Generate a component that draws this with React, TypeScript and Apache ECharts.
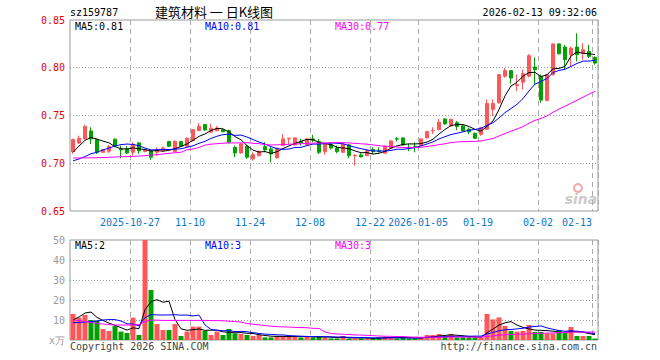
import React, { useEffect, useRef } from "react";
import * as echarts from "echarts";

const dates = [
  "2025-10-13","2025-10-14","2025-10-15","2025-10-16","2025-10-17","2025-10-20","2025-10-21","2025-10-22","2025-10-23","2025-10-24",
  "2025-10-27","2025-10-28","2025-10-29","2025-10-30","2025-10-31",
  "2025-11-03","2025-11-04","2025-11-05","2025-11-06","2025-11-07","2025-11-10","2025-11-11","2025-11-12","2025-11-13","2025-11-14",
  "2025-11-17","2025-11-18","2025-11-19","2025-11-20","2025-11-21","2025-11-24","2025-11-25","2025-11-26","2025-11-27","2025-11-28",
  "2025-12-01","2025-12-02","2025-12-03","2025-12-04","2025-12-05","2025-12-08","2025-12-09","2025-12-10","2025-12-11","2025-12-12",
  "2025-12-15","2025-12-16","2025-12-17","2025-12-18","2025-12-19","2025-12-22","2025-12-23","2025-12-24","2025-12-25","2025-12-26",
  "2025-12-29","2025-12-30","2025-12-31",
  "2026-01-05","2026-01-06","2026-01-07","2026-01-08","2026-01-09","2026-01-12","2026-01-13","2026-01-14","2026-01-15","2026-01-16",
  "2026-01-19","2026-01-20","2026-01-21","2026-01-22","2026-01-23","2026-01-26","2026-01-27","2026-01-28","2026-01-29","2026-01-30",
  "2026-02-02","2026-02-03","2026-02-04","2026-02-05","2026-02-06","2026-02-09","2026-02-10","2026-02-11","2026-02-12","2026-02-13",
];

const opens = [
  0.7120,0.7213,0.7255,0.7339,0.7248,0.7115,0.7126,0.7252,0.7150,0.7150,
  0.7115,0.7213,0.7122,0.7129,0.7115,0.7133,0.7227,0.7122,0.7227,0.7178,
  0.7237,0.7342,0.7405,0.7325,0.7340,0.7350,0.7342,0.7167,0.7108,0.7178,
  0.7045,0.7080,0.7174,0.7150,0.7056,0.7185,0.7255,0.7192,0.7227,0.7192,
  0.7255,0.7227,0.7122,0.7199,0.7160,0.7115,0.7192,0.7078,0.7087,0.7080,
  0.7143,0.7132,0.7105,0.7157,0.7257,0.7265,0.7167,0.7176,0.7185,0.7265,
  0.7340,0.7352,0.7464,0.7390,0.7425,0.7391,0.7356,0.7314,0.7304,0.7356,
  0.7564,0.7633,0.7911,0.7970,0.7814,0.7848,0.7911,0.8008,0.7911,0.7658,
  0.7928,0.8250,0.8216,0.8136,0.8216,0.8153,0.8171,0.8108,
];
const closes = [
  0.7248,0.7262,0.7384,0.7255,0.7115,0.7143,0.7174,0.7185,0.7140,0.7108,
  0.7199,0.7129,0.7140,0.7063,0.7136,0.7160,0.7178,0.7230,0.7178,0.7262,
  0.7352,0.7387,0.7349,0.7366,0.7370,0.7330,0.7220,0.7108,0.7202,0.7063,
  0.7090,0.7120,0.7140,0.7097,0.7157,0.7255,0.7262,0.7265,0.7213,0.7255,
  0.7241,0.7115,0.7202,0.7160,0.7122,0.7202,0.7080,0.7082,0.7066,0.7132,
  0.7122,0.7122,0.7178,0.7234,0.7253,0.7192,0.7160,0.7172,0.7255,0.7331,
  0.7344,0.7430,0.7412,0.7460,0.7384,0.7339,0.7328,0.7262,0.7373,0.7626,
  0.7626,0.7928,0.7970,0.7893,0.7824,0.7938,0.8126,0.7980,0.7661,0.7928,
  0.8250,0.8146,0.8084,0.8205,0.8136,0.8188,0.8119,0.8049,
];
const lows = [
  0.7100,0.7200,0.7250,0.7202,0.7097,0.7108,0.7108,0.7180,0.7052,0.7097,
  0.7080,0.7097,0.7115,0.7035,0.7080,0.7125,0.7170,0.7110,0.7170,0.7170,
  0.7230,0.7335,0.7340,0.7320,0.7335,0.7325,0.7210,0.7063,0.7100,0.7045,
  0.7027,0.7070,0.7115,0.7010,0.7050,0.7180,0.7202,0.7185,0.7185,0.7185,
  0.7220,0.7097,0.7090,0.7143,0.7105,0.7110,0.7052,0.6975,0.7063,0.7075,
  0.7097,0.7115,0.7100,0.7150,0.7227,0.7185,0.7126,0.7115,0.7180,0.7260,
  0.7307,0.7345,0.7405,0.7385,0.7346,0.7330,0.7304,0.7255,0.7287,0.7350,
  0.7495,0.7625,0.7895,0.7834,0.7755,0.7772,0.7900,0.7824,0.7633,0.7650,
  0.7920,0.8140,0.7980,0.8015,0.8067,0.8084,0.8101,0.8032,
];
const highs = [
  0.7258,0.7290,0.7405,0.7377,0.7255,0.7150,0.7192,0.7260,0.7185,0.7178,
  0.7220,0.7220,0.7150,0.7140,0.7167,0.7175,0.7235,0.7240,0.7235,0.7270,
  0.7360,0.7420,0.7410,0.7415,0.7390,0.7360,0.7350,0.7185,0.7210,0.7185,
  0.7115,0.7135,0.7220,0.7167,0.7165,0.7307,0.7265,0.7270,0.7255,0.7262,
  0.7297,0.7255,0.7220,0.7220,0.7185,0.7210,0.7199,0.7097,0.7105,0.7140,
  0.7167,0.7167,0.7185,0.7240,0.7276,0.7270,0.7202,0.7220,0.7262,0.7340,
  0.7377,0.7464,0.7470,0.7465,0.7443,0.7400,0.7373,0.7320,0.7380,0.7668,
  0.7668,0.7935,0.7997,0.7975,0.7928,0.7980,0.8143,0.8108,0.7928,0.7935,
  0.8255,0.8255,0.8240,0.8223,0.8361,0.8257,0.8240,0.8119,
];
// volume in 万
const volumes = [
  13,11.2,12.5,10,9.7,5.5,4.5,7,4.2,3.5,
  11.2,2.5,54,25,8,5,5,8,2,4.2,
  6.7,6.7,4.5,2.5,4.2,2.5,5.5,3.3,3,2.5,
  2,2.5,1.3,1.3,2,2,2,1.7,1.3,1.7,
  1.3,2,1.3,0.8,0.8,2,0.8,0.8,0.8,0.8,
  0.8,1.3,1.7,1.3,0.8,1.3,0.8,0.8,1.3,2.5,
  2.5,3,2,3,1.3,1.3,1.3,1.3,1.3,13,
  10.3,11.3,7,4.5,4.2,4.5,7.5,4,4,3.3,
  3.3,5,3.7,6.5,2,2,2,0.7,
];

// moving-average values before a full window exists
const ma5Lead = [0.7115, 0.718, 0.724, 0.727];
const ma10Lead = [0.7025, 0.7045, 0.707, 0.710, 0.7115, 0.714, 0.716, 0.718, 0.7195];
const ma30Lead = [
  0.7055,0.7055,0.7056,0.7057,0.7058,0.7060,0.7062,0.7065,0.7068,0.7070,
  0.7072,0.7075,0.7080,0.7085,0.7090,0.7097,0.7104,0.7110,0.7115,0.7140,
  0.7150,0.7165,0.7190,0.7200,0.7205,0.7210,0.7212,0.7213,0.7213,
];
const vma5Lead = [10, 11.5, 13.5, 14];
const vma10Lead = [8.7, 8.8, 9, 9.2, 9.5, 10, 10.2, 10.2, 9.5];
const vma30Lead = [
  10,9.7,9.2,8.8,8.3,8,7.7,7.5,7.5,7.5,
  7.5,7.7,9.2,10,9.9,9.8,9.8,9.8,9.8,9.8,
  9.8,9.8,9.8,9.7,9.7,9.6,9.4,9.2,9.0,
];

const tickDates = ["2025-10-27","2025-11-10","2025-11-24","2025-12-08","2025-12-22","2026-01-05","2026-01-19","2026-02-02","2026-02-13"];
const tickTexts = ["2025-10-27","11-10","11-24","12-08","12-22","2026-01-05","01-19","02-02","02-13"];
const priceTicks = { min: 0.65, max: 0.85, step: 0.05 };
const volTicks = { min: 0, max: 50, step: 10 };

const stockCode = "sz159787";
const chartTitle = "建筑材料 一 日K线图";
const timeStamp = "2026-02-13 09:32:06";
const priceMaTexts = ["MA5:0.81", "MA10:0.81", "MA30:0.77"];
const volMaTexts = ["MA5:2", "MA10:3", "MA30:3"];
const volUnit = "x万";
const copyrightText = "Copyright 2026 SINA.COM";
const siteText = "http://finance.sina.com.cn";

const RED = "#ff5757";
const GREEN = "#00a000";
const MA_COLORS = ["#000000", "#0000ff", "#ff00ff"];
const MONO = '"DejaVu Sans Mono", monospace';

function movingAvg(src: number[], n: number, lead: number[]) {
  return src.map((_, i) => {
    if (i < n - 1) return lead[i];
    let s = 0;
    for (let k = i - n + 1; k <= i; k++) s += src[k];
    return +(s / n).toFixed(4);
  });
}

export default function App() {
  const ref = useRef<HTMLDivElement>(null);
  useEffect(() => {
    if (!ref.current) return;
    const chart = echarts.init(ref.current, null, { renderer: "svg" });

    const isTick = (_i: number, v: string) => tickDates.indexOf(v) >= 0;
    const xLabelFmt = (v: string) => {
      const k = tickDates.indexOf(v);
      if (k < 0) return "";
      return `{${k === tickDates.length - 1 ? "e" : "c"}|${tickTexts[k]}}`;
    };
    const xLabelStyle = { color: "#0a78cc", fontFamily: MONO, fontSize: 10 };
    const splitX = { show: true, interval: isTick, lineStyle: { color: "#aaaaaa", type: [5, 4], width: 1 } };

    const candleData = dates.map((_, i) => [opens[i], closes[i], lows[i], highs[i]]);
    const volData = volumes.map((v, i) => ({ value: v, itemStyle: { color: closes[i] >= opens[i] ? RED : GREEN } }));
    const ma = [movingAvg(closes, 5, ma5Lead), movingAvg(closes, 10, ma10Lead), movingAvg(closes, 30, ma30Lead)];
    const vma = [movingAvg(volumes, 5, vma5Lead), movingAvg(volumes, 10, vma10Lead), movingAvg(volumes, 30, vma30Lead)];

    const lineSeries = (data: number[], color: string, idx: number) => ({
      type: "line", data, xAxisIndex: idx, yAxisIndex: idx, symbol: "none", silent: true,
      lineStyle: { color, width: 1 }, z: 3,
    });

    const txt = (x: number, y: number, text: string, fill: string, extra: any = {}) => ({
      type: "text", x, y, silent: true,
      style: { text, fill, font: `10px ${MONO}`, align: "left", verticalAlign: "middle", ...extra },
    });

    chart.setOption({
      animation: false,
      backgroundColor: "#ffffff",
      grid: [
        { left: 70, top: 20, width: 528, height: 191, show: true, borderColor: "#999999", borderWidth: 1, backgroundColor: "transparent" },
        { left: 70, top: 240, width: 528, height: 100, show: true, borderColor: "#999999", borderWidth: 1, backgroundColor: "transparent" },
      ],
      xAxis: [
        {
          type: "category", data: dates, gridIndex: 0, boundaryGap: true,
          axisLine: { show: false }, axisTick: { show: false },
          axisLabel: {
            interval: isTick, formatter: xLabelFmt, margin: 6, ...xLabelStyle,
            rich: {
              c: { ...xLabelStyle, padding: [0, 6, 0, 0] },
              e: { ...xLabelStyle, padding: [0, 36, 0, 0] },
            },
          },
          splitLine: splitX,
        },
        {
          type: "category", data: dates, gridIndex: 1, boundaryGap: true,
          axisLine: { show: false }, axisTick: { show: false }, axisLabel: { show: false },
          splitLine: splitX,
        },
      ],
      yAxis: [
        {
          type: "value", gridIndex: 0, min: priceTicks.min, max: priceTicks.max, interval: priceTicks.step,
          axisLine: { show: false }, axisTick: { show: false },
          axisLabel: { color: "#e60000", fontFamily: MONO, fontSize: 10, margin: 5, formatter: (v: number) => v.toFixed(2) },
          splitLine: { show: true, showMinLine: false, showMaxLine: false, lineStyle: { color: "#999999", type: [1, 2], width: 1 } },
        },
        {
          type: "value", gridIndex: 1, min: volTicks.min, max: volTicks.max, interval: volTicks.step,
          axisLine: { show: false }, axisTick: { show: false },
          axisLabel: { color: "#9a9a9a", fontFamily: MONO, fontSize: 10, margin: 5, formatter: (v: number) => (v === 0 ? volUnit : String(v)) },
          splitLine: { show: true, showMinLine: false, showMaxLine: false, lineStyle: { color: "#999999", type: [1, 2], width: 1 } },
        },
      ],
      series: [
        {
          type: "candlestick", data: candleData, xAxisIndex: 0, yAxisIndex: 0, barWidth: 4, silent: true,
          itemStyle: { color: RED, color0: GREEN, borderColor: RED, borderColor0: GREEN, borderWidth: 1 },
        },
        lineSeries(ma[0], MA_COLORS[0], 0),
        lineSeries(ma[1], MA_COLORS[1], 0),
        lineSeries(ma[2], MA_COLORS[2], 0),
        { type: "bar", data: volData, xAxisIndex: 1, yAxisIndex: 1, barWidth: 5, clip: true, silent: true },
        lineSeries(vma[0], MA_COLORS[0], 1),
        lineSeries(vma[1], MA_COLORS[1], 1),
        lineSeries(vma[2], MA_COLORS[2], 1),
      ],
      graphic: [
        txt(70, 12.5, stockCode, "#000000"),
        { type: "text", x: 214, y: 11.5, silent: true, style: { text: chartTitle, fill: "#000000", font: '13px "Noto Sans CJK SC"', lineHeight: 13, align: "center", verticalAlign: "middle" } },
        txt(597, 12.5, timeStamp, "#000000", { align: "right" }),
        txt(75, 26.5, priceMaTexts[0], MA_COLORS[0]),
        txt(205, 26.5, priceMaTexts[1], MA_COLORS[1]),
        txt(335, 26.5, priceMaTexts[2], MA_COLORS[2]),
        txt(75, 245.5, volMaTexts[0], MA_COLORS[0]),
        txt(205, 245.5, volMaTexts[1], MA_COLORS[1]),
        txt(335, 245.5, volMaTexts[2], MA_COLORS[2]),
        txt(70, 346.5, copyrightText, "#444444"),
        txt(597, 346.5, siteText, "#444444", { align: "right" }),
        { type: "circle", silent: true, shape: { cx: 578, cy: 188, r: 4 }, style: { fill: "none", stroke: "#f3a8a8", lineWidth: 2 } },
        { type: "text", x: 581, y: 199, silent: true, style: { text: "sina", fill: "#cccccc", font: 'italic bold 14px "DejaVu Sans"', align: "center", verticalAlign: "middle" } },
      ],
    });
    return () => chart.dispose();
  }, []);
  return <div ref={ref} style={{ position: "absolute", left: 0, top: 0, width: 660, height: 360 }} />;
}
